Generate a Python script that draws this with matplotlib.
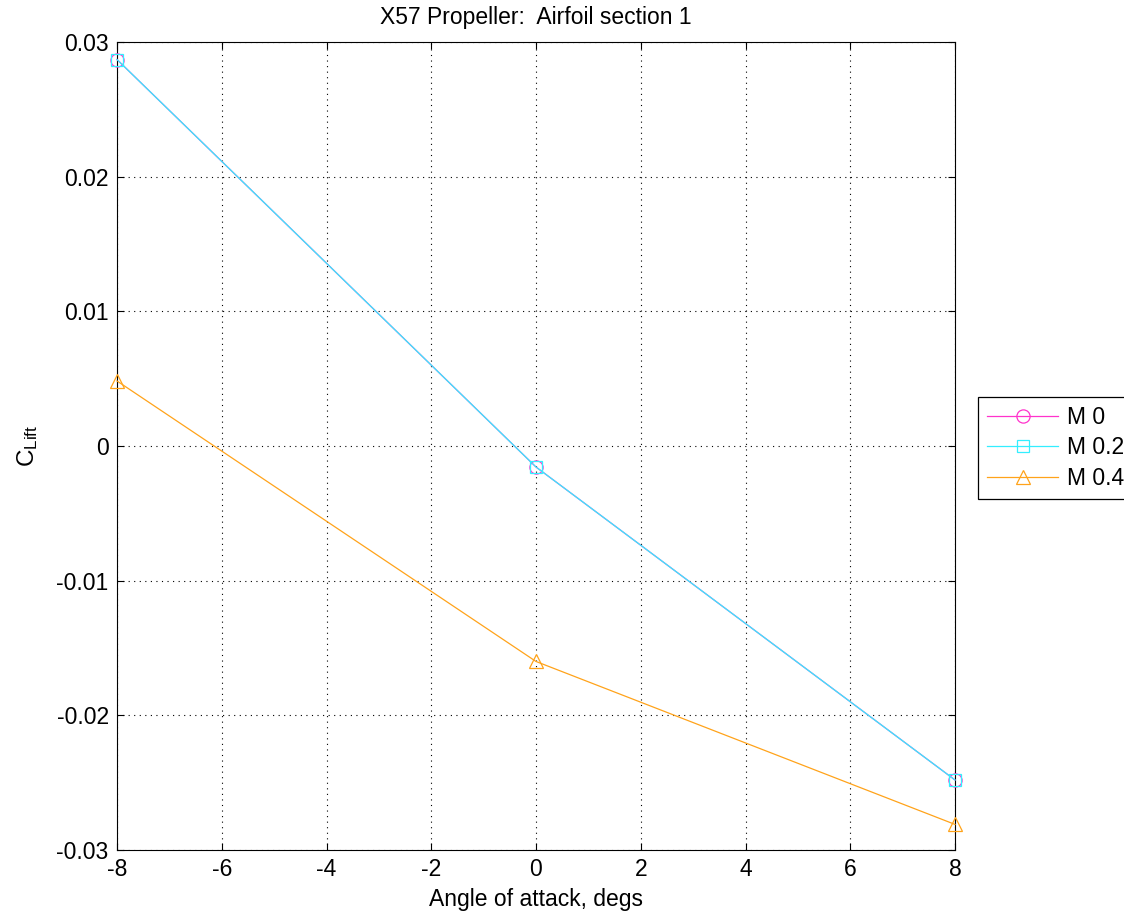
import matplotlib
matplotlib.use('Agg')
import matplotlib.pyplot as plt

# angle of attack (deg) and lift coefficient per Mach number
alpha = [-8, 0, 8]
cl_m0 = [0.0287, -0.00156, -0.0248]
cl_m02 = [0.0287, -0.00156, -0.0248]
cl_m04 = [0.00483, -0.0160, -0.0281]
labels = ['M 0', 'M 0.2', 'M 0.4']

plt.rcParams['font.family'] = ['Liberation Sans', 'DejaVu Sans']
plt.rcParams['axes.unicode_minus'] = False
fs = 16.5

fig = plt.figure(figsize=(11.24, 9.16), dpi=100)
ax = fig.add_axes([117 / 1124, 66 / 916, 838 / 1124, 808 / 916])

ax.plot(alpha, cl_m0, color='#ff33cc', lw=0.9, marker='o', ms=9.5,
        mfc='none', mew=0.9, label=labels[0], clip_on=False, zorder=3)
ax.plot(alpha, cl_m02, color='#33eeff', lw=0.9, marker='s', ms=8,
        mfc='none', mew=0.9, label=labels[1], clip_on=False, zorder=3)
ax.plot(alpha, cl_m04, color='#ffa31a', lw=0.9, marker='^', ms=10.5,
        mfc='none', mew=0.9, label=labels[2], clip_on=False, zorder=3)

ax.set_xlim(-8, 8)
ax.set_ylim(-0.03, 0.03)
ax.set_xticks(range(-8, 9, 2))
ax.set_yticks([-0.03, -0.02, -0.01, 0, 0.01, 0.02, 0.03])
ax.set_yticklabels(['-0.03', '-0.02', '-0.01', '0', '0.01', '0.02', '0.03'])
ax.tick_params(direction='in', labelsize=fs, length=5, top=True, right=True,
               pad=6)
ax.grid(True, color='black', linestyle=(0, (1, 4)), linewidth=0.8)
for s in ax.spines.values():
    s.set_linewidth(0.8)

ax.set_xlabel('Angle of attack, degs', fontsize=fs, labelpad=5)
ax.set_ylabel(r'$\mathregular{C_{Lift}}$', fontsize=fs + 1, labelpad=12)
ax.set_title('X57 Propeller:  Airfoil section 1', fontsize=fs, pad=13)

leg = ax.legend(loc='upper left', bbox_to_anchor=(978 / 1124, 519 / 916),
                bbox_transform=fig.transFigure, fontsize=fs, numpoints=1,
                handlelength=3.1, fancybox=False, edgecolor='black',
                framealpha=1, borderaxespad=0, labelspacing=0.32,
                handletextpad=0.4, borderpad=0.4)
leg.get_frame().set_linewidth(0.9)

fig.savefig('out.png', dpi=100)
